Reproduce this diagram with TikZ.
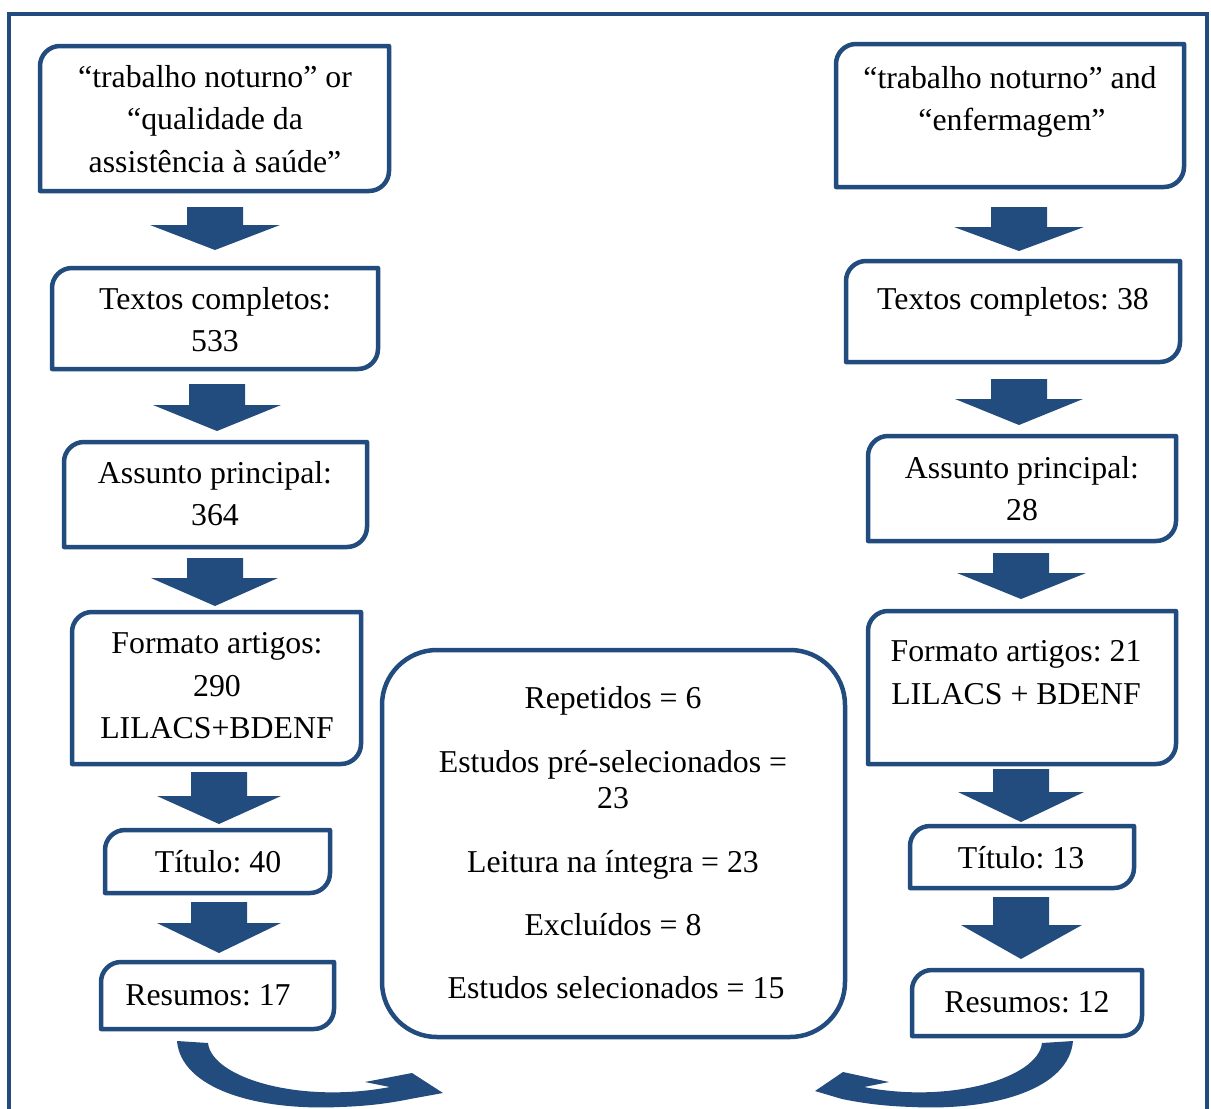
\documentclass[tikz,border=0pt]{standalone}
\usepackage{fontspec}
\setmainfont{Liberation Serif}
\definecolor{dblue}{HTML}{224B7E}
\newcommand\dbox[5]{%
  \node[boxarea, minimum width={(#4-#2)*1pt}, minimum height={(#5-#3)*1pt}] (#1) at (#2,#3) {};
  \draw[boxline] (#1.north east) -- ([xshift=20pt]#1.north west)
    .. controls ([xshift=9pt]#1.north west) and ([yshift=-9pt]#1.north west) .. ([yshift=-20pt]#1.north west)
    -- (#1.south west) -- ([xshift=-20pt]#1.south east)
    .. controls ([xshift=-9pt]#1.south east) and ([yshift=9pt]#1.south east) .. ([yshift=20pt]#1.south east)
    -- cycle;}
\newcommand\barrow[8]{%
  \fill[blockfill] (#1,#3) -- (#2,#3) -- (#2,#4) -- (#6,#4) -- (#7,#8) -- (#5,#4) -- (#1,#4) -- cycle;}
\begin{document}
\begin{tikzpicture}[x=1pt,y=-1pt,
  boxline/.style={draw=dblue, line width=4.5pt, line join=round},
  boxarea/.style={draw=none, inner sep=0pt, outer sep=0pt, anchor=north west},
  txt/.style={font=\fontsize{31.8pt}{42.5pt}\selectfont\frenchspacing, inner sep=0pt, anchor=base},
  blockfill/.style={fill=dblue}]
\useasboundingbox (0,0) rectangle (1211,1109);
% outer frame (open at the bottom)
\draw[boxline, line width=4pt, line join=miter] (8.5,1120) -- (8.5,14) -- (1207,14) -- (1207,1120);

% left column
\dbox{L1}{40}{46}{389}{191}
\dbox{L2}{52}{268}{378}{369}
\dbox{L3}{64}{442}{367}{547}
\dbox{L4}{72}{612}{361}{764}
\dbox{L5}{105}{830}{330}{893}
\dbox{L6}{101}{962}{334}{1029}
% right column
\dbox{R1}{836}{44}{1184}{187}
\dbox{R2}{846}{261}{1180}{362}
\dbox{R3}{868}{436}{1176}{541}
\dbox{R4}{868}{611}{1176}{764}
\dbox{R5}{910}{826}{1134}{888}
\dbox{R6}{912}{970}{1142}{1036}
% centre box
\node[boxarea, draw=dblue, line width=4.5pt, rounded corners=55pt,
      minimum width=463pt, minimum height=387pt] (C) at (382,650) {};

% texts left
\node[txt] (L1a) at (215,87) {“trabalho noturno” or};
\node[txt] (L1b) at (215,129) {“qualidade da};
\node[txt] (L1c) at (215,172) {assistência à saúde”};
\node[txt] (L2a) at (215,309) {Textos completos:};
\node[txt] (L2b) at (215,351) {533};
\node[txt] (L3a) at (215,483) {Assunto principal:};
\node[txt] (L3b) at (215,525) {364};
\node[txt] (L4a) at (217,653) {Formato artigos:};
\node[txt] (L4b) at (217,696) {290};
\node[txt] (L4c) at (217,738) {LILACS+BDENF};
\node[txt] (L5a) at (218,872) {Título: 40};
\node[txt] (L6a) at (208,1005) {Resumos: 17};
% texts right
\node[txt] (R1a) at (1010,88) {“trabalho noturno” and};
\node[txt] (R1b) at (1012,130) {“enfermagem”};
\node[txt] (R2a) at (1013,309) {Textos completos: 38};
\node[txt] (R3a) at (1022,478) {Assunto principal:};
\node[txt] (R3b) at (1022,520) {28};
\node[txt] (R4a) at (1016,661) {Formato artigos: 21};
\node[txt] (R4b) at (1016,704) {LILACS + BDENF};
\node[txt] (R5a) at (1021,868) {Título: 13};
\node[txt] (R6a) at (1027,1012) {Resumos: 12};
% texts centre
\node[txt] (C1) at (613,708) {Repetidos = 6};
\node[txt] (C2) at (613,772) {Estudos pré-selecionados =};
\node[txt] (C3) at (613,808) {23};
\node[txt] (C4) at (613,872) {Leitura na íntegra = 23};
\node[txt] (C5) at (613,935) {Excluídos = 8};
\node[txt] (C6) at (616,998) {Estudos selecionados = 15};

% block arrows left
\barrow{187}{243}{207}{225}{150}{280}{215}{250}
\barrow{189}{245}{384}{405}{153}{281}{217}{431}
\barrow{187}{243}{558}{578}{151}{278}{215}{606}
\barrow{191}{247}{772}{796}{157}{281}{219}{824}
\barrow{191}{247}{902}{923}{157}{281}{219}{953}
% block arrows right
\barrow{991}{1047}{207}{227}{954}{1084}{1019}{251}
\barrow{991}{1047}{379}{399}{955}{1083}{1019}{425}
\barrow{993}{1049}{553}{573}{957}{1086}{1021}{599}
\barrow{993}{1049}{769}{792}{958}{1084}{1021}{822}
\barrow{993}{1049}{897}{925}{961}{1082}{1021}{959}

% curved arrows at the bottom
\fill[blockfill] (177,1041) -- (208,1043)
  .. controls (212,1078) and (300,1104) .. (390,1087)
  -- (365,1082) -- (412,1073) -- (443,1093) -- (410,1099)
  .. controls (390,1103) and (370,1106) .. (340,1107)
  .. controls (255,1111) and (181,1088) .. (177,1041) -- cycle;
\fill[blockfill] (1073,1041) -- (1042,1043)
  .. controls (1038,1078) and (950,1104) .. (864,1087)
  -- (889,1082) -- (843,1072) -- (815,1091) -- (842,1099)
  .. controls (862,1103) and (882,1106) .. (912,1107)
  .. controls (997,1111) and (1069,1088) .. (1073,1041) -- cycle;
\end{tikzpicture}
\end{document}
